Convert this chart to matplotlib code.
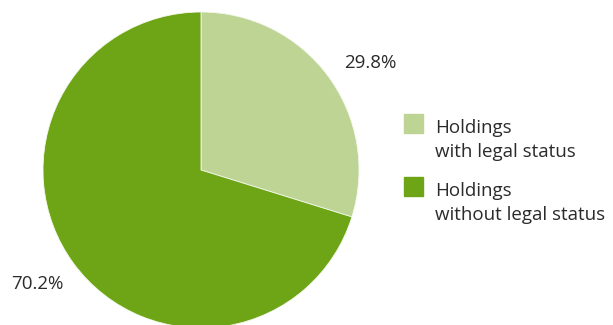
import matplotlib.pyplot as plt
from matplotlib.patches import Rectangle

# Data
categories = ['Holdings\nwith legal status', 'Holdings\nwithout legal status']
shares = [29.8, 70.2]
colors = ['#bdd495', '#6ea516']
label_pos = [(370, 63), (37, 284)]  # pixel positions of the % labels

W, H = 613, 325
plt.rcParams['font.family'] = ['Open Sans', 'DejaVu Sans']
text_color = '#2b2b2b'

fig = plt.figure(figsize=(W / 100, H / 100), dpi=100)

# pie centred at (201, 170) px with radius 158 px
cx, cy, r = 201, 170, 158
ax = fig.add_axes([(cx - r) / W, (H - cy - r) / H, 2 * r / W, 2 * r / H])
ax.pie(shares, colors=colors, startangle=90, counterclock=False,
       wedgeprops=dict(linewidth=0.6, edgecolor='#f4f8ec'))
ax.set_xlim(-1, 1)
ax.set_ylim(-1, 1)
ax.set_aspect('equal')
ax.axis('off')

for val, (px, py) in zip(shares, label_pos):
    fig.text(px / W, 1 - py / H, f'{val}%', ha='center', va='center',
             fontsize=13.5, color=text_color)

# legend: square next to first line, each line placed on its own baseline
for i, (cat, col) in enumerate(zip(categories, colors)):
    top = 114 + i * 63
    fig.patches.append(Rectangle((404 / W, 1 - (top + 19) / H), 19 / W, 19 / H,
                                 transform=fig.transFigure, color=col))
    for j, line in enumerate(cat.split('\n')):
        fig.text(435 / W, 1 - (top + 19 + j * 24) / H, line, ha='left',
                 va='baseline', fontsize=13.5, color=text_color)

fig.savefig('out.png', dpi=100)
